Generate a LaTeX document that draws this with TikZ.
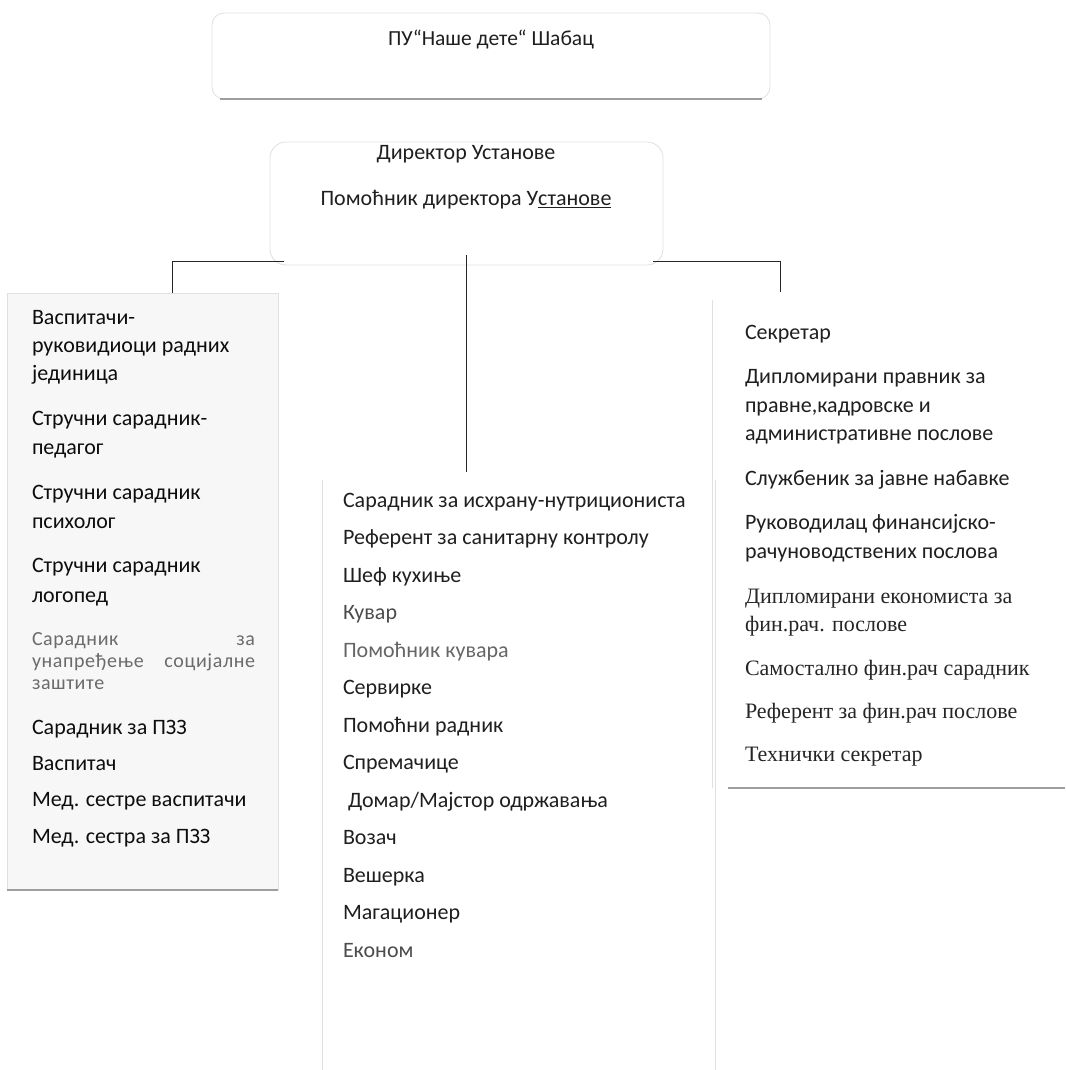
\documentclass[tikz,border=0pt]{standalone}
\usepackage{fontspec}
\setmainfont{Carlito}
\newfontfamily\serifcyr{Liberation Serif}
\begin{document}
\begin{tikzpicture}[x=1pt,y=-1pt,
  every node/.style={inner sep=0pt, outer sep=0pt},
  txt/.style={anchor=mid west, font=\fontsize{22}{26}\selectfont, text=black!88},
  ltxt/.style={txt, text=black!95},
  ctxt/.style={anchor=mid, font=\fontsize{22}{26}\selectfont, text=black!88},
  soft/.style={txt, text=black!60},
  just/.style={anchor=mid west, text=black!58, font=\fontsize{20}{22}\selectfont\addfontfeatures{LetterSpace=3}},
  tms/.style={anchor=mid west, font=\serifcyr\fontsize{22}{26}\selectfont, text=black!85},
  faintbox/.style={draw=black!12, line width=0.8pt},
  faintline/.style={draw=black!12, line width=0.8pt},
  shadeline/.style={draw=black!38, line width=2pt},
  link/.style={draw=black!85, line width=1pt},
]
\useasboundingbox (0,0) rectangle (1065,1070);
\fill[white] (0,0) rectangle (1065,1070);

% title
\node[faintbox, rounded corners=12pt, minimum width=558pt, minimum height=86pt] (title) at (491,56) {};
\draw[shadeline] ([xshift=8pt]title.south west) -- ([xshift=-8pt]title.south east);
\node[ctxt, font=\fontsize{21.5}{24}\selectfont] (titletext) at (491,43) {ПУ“Наше дете“ Шабац};

% director
\node[faintbox, rounded corners=16pt, minimum width=393pt, minimum height=123pt] (dir) at (466.5,203.5) {};
\node[ctxt] (d1) at (466,157) {Директор Установе};
\node[ctxt] (d2) at (466,203) {Помоћник директора У\underline{станове}};

% column boxes
\node[faintbox, fill=black!3, minimum width=271pt, minimum height=597pt, anchor=north west] (lbox) at (7,293) {};
\draw[shadeline] (lbox.south west) -- (lbox.south east);
\node[minimum width=393pt, minimum height=590pt, anchor=north west] (cbox) at (322,480) {};
\draw[faintline] (cbox.north west) -- (cbox.south west);
\draw[faintline] (cbox.north east) -- (cbox.south east);
\node[minimum width=353pt, minimum height=488pt, anchor=north west] (rbox) at (712,300) {};
\draw[faintline] (rbox.north west) -- (rbox.south west);
\draw[shadeline] ([xshift=16pt]rbox.south west) -- (rbox.south east);

% connectors
\coordinate (lt) at ([xshift=29.5pt]lbox.north);
\coordinate (rt) at (780,292);
\coordinate (ct) at (466.5,472);
\draw[link] ([xshift=14pt,yshift=4pt]dir.south west) -| (lt);
\draw[link] ([xshift=-10pt,yshift=4pt]dir.south east) -| (rt);
\draw[link] ([yshift=10pt]dir.south) -- (ct);

% left column
\node[ltxt] (l1a) at (32,322) {Васпитачи-};
\node[ltxt] (l1b) at (32,350) {руковидиоци радних};
\node[ltxt] (l1c) at (32,378) {јединица};
\node[ltxt] (l2a) at (32,423) {Стручни сарадник-};
\node[ltxt] (l2b) at (32,452) {педагог};
\node[ltxt] (l3a) at (32,497) {Стручни сарадник};
\node[ltxt] (l3b) at (32,526) {психолог};
\node[ltxt] (l4a) at (32,570) {Стручни сарадник};
\node[ltxt] (l4b) at (32,600) {логопед};
\node[just] (l5a) at (32,643) {\makebox[223pt][s]{Сарадник\hfill за}};
\node[just] (l5b) at (32,665) {\makebox[223pt][s]{унапређење\hfill социјалне}};
\node[just] (l5c) at (32,687) {заштите};
\node[ltxt] (l6) at (32,732) {Сарадник за ПЗЗ};
\node[ltxt] (l7) at (32,768) {Васпитач};
\node[ltxt] (l8) at (32,804) {Мед. сестре васпитачи};
\node[ltxt] (l9) at (32,841) {Мед. сестра за ПЗЗ};

% center column
\node[txt] (c1) at (343,505) {Сарадник за исхрану-нутрициониста};
\node[txt] (c2) at (343,542.5) {Референт за санитарну контролу};
\node[txt] (c3) at (343,580) {Шеф кухиње};
\node[txt, text=black!70] (c4) at (343,617.5) {Кувар};
\node[soft] (c5) at (343,655) {Помоћник кувара};
\node[txt] (c6) at (343,692.5) {Сервирке};
\node[txt] (c7) at (343,730) {Помоћни радник};
\node[txt] (c8) at (343,767.5) {Спремачице};
\node[txt] (c9) at (348,805) {Домар/Мајстор одржавања};
\node[txt] (c10) at (343,842.5) {Возач};
\node[txt] (c11) at (343,880) {Вешерка};
\node[txt] (c12) at (343,917.5) {Магационер};
\node[txt, text=black!70] (c13) at (343,955) {Економ};

% right column
\node[txt] (r1) at (745,337) {Секретар};
\node[txt] (r2a) at (745,381) {Дипломирани правник за};
\node[txt] (r2b) at (745,410) {правне,кадровске и};
\node[txt] (r2c) at (745,438) {административне послове};
\node[txt] (r3) at (745,483) {Службеник за јавне набавке};
\node[txt] (r4a) at (745,527) {Руководилац финансијско-};
\node[txt] (r4b) at (745,556) {рачуноводствених послова};
\node[tms] (r5a) at (745,601) {Дипломирани економиста за};
\node[tms] (r5b) at (745,629) {фин.рач. послове};
\node[tms] (r6) at (745,673) {Самостално фин.рач сарадник};
\node[tms] (r7) at (745,716) {Референт за фин.рач послове};
\node[tms] (r8) at (745,759) {Технички секретар};
\end{tikzpicture}
\end{document}
